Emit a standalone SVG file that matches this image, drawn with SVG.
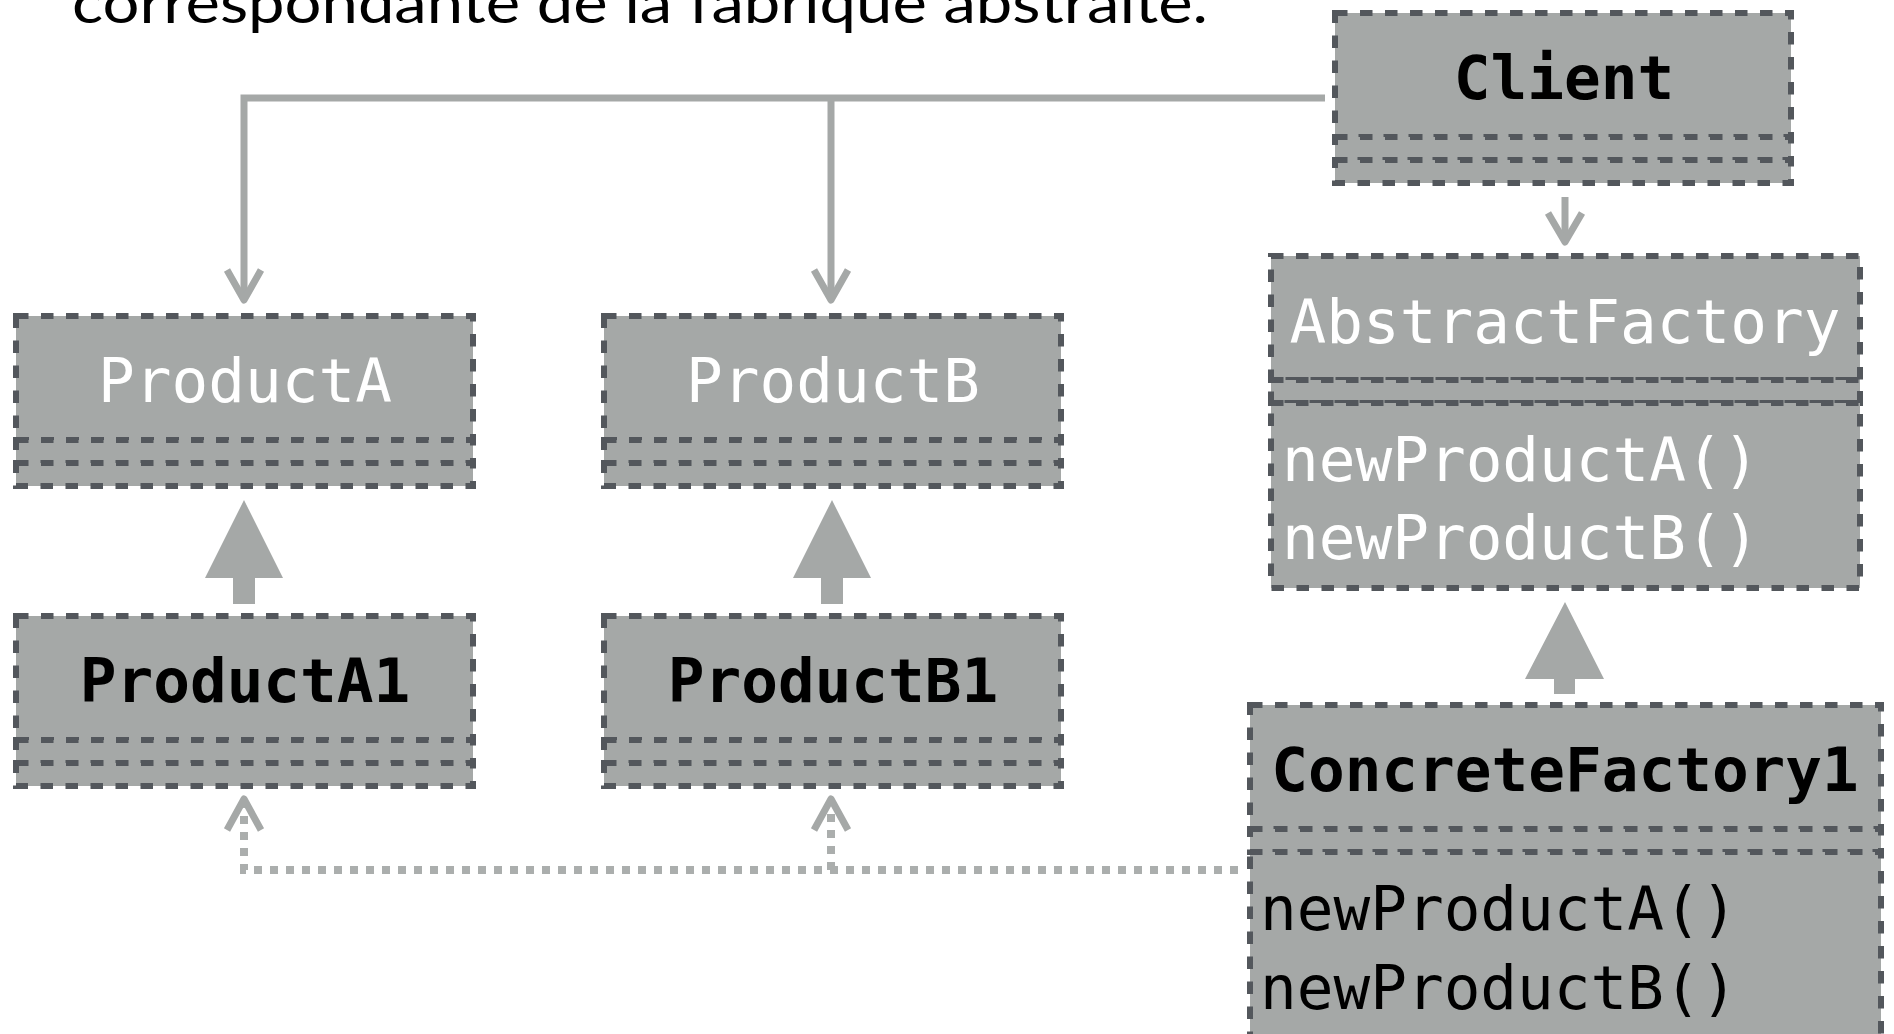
<svg xmlns="http://www.w3.org/2000/svg" width="1894" height="1034" viewBox="0 0 1894 1034">
<style>
.box{fill:#a5a8a7;stroke:#53575c;stroke-width:6;stroke-dasharray:12.5 12.5}
.t{font-family:"DejaVu Sans Mono","Liberation Mono",monospace;font-size:61px}
.w{fill:#ffffff}
.k{fill:#000000}
.b{font-weight:bold}
.mid{text-anchor:middle}
.con{fill:none;stroke:#a5a8a7;stroke-width:7}
.head{fill:none;stroke:#a5a8a7;stroke-width:7;stroke-linejoin:round}
.dot{fill:none;stroke:#abaead;stroke-width:8;stroke-dasharray:8 8}
.inh{fill:#a5a8a7}
.title{font-family:Lato,"Open Sans","Noto Sans",sans-serif;font-weight:400;font-size:56px;fill:#000}
</style>
<text class="title" x="72" y="23" textLength="1136" lengthAdjust="spacingAndGlyphs">correspondante de la fabrique abstraite.</text>

<g id="connectors">
  <path class="con" d="M1325 98 H244 V298"/>
  <path class="con" d="M831 98 V298"/>
  <polyline class="head" points="227,270 244,300 261,270"/>
  <polyline class="head" points="814,270 831,300 848,270"/>
  <path class="con" d="M1565 197 V240"/>
  <polyline class="head" points="1548,213 1565,242 1582,213"/>
  <path class="inh" d="M244 500 L283 578 L255 578 L255 604 L233 604 L233 578 L205 578 Z"/>
  <path class="inh" d="M832 500 L871 578 L843 578 L843 604 L821 604 L821 578 L793 578 Z"/>
  <path class="inh" d="M1565 602 L1604 679 L1575 679 L1575 694 L1554 694 L1554 679 L1525 679 Z"/>
  <path class="dot" d="M1238 870 H244 V804"/>
  <path class="dot" d="M831 870 V804"/>
  <polyline class="head" points="227,830 244,799 261,830"/>
  <polyline class="head" points="814,830 831,799 848,830"/>
</g>

<g id="client">
  <rect class="box" x="1335" y="13" width="456" height="124"/>
  <rect class="box" x="1335" y="137" width="456" height="23"/>
  <rect class="box" x="1335" y="160" width="456" height="23"/>
  <text class="t k b mid" x="1564" y="99">Client</text>
</g>

<g id="productA">
  <rect class="box" x="16" y="316" width="457" height="124"/>
  <rect class="box" x="16" y="440" width="457" height="23"/>
  <rect class="box" x="16" y="463" width="457" height="23"/>
  <text class="t w mid" x="245" y="402">ProductA</text>
</g>

<g id="productB">
  <rect class="box" x="604" y="316" width="457" height="124"/>
  <rect class="box" x="604" y="440" width="457" height="23"/>
  <rect class="box" x="604" y="463" width="457" height="23"/>
  <text class="t w mid" x="833" y="402">ProductB</text>
</g>

<g id="productA1">
  <rect class="box" x="16" y="616" width="457" height="124"/>
  <rect class="box" x="16" y="740" width="457" height="23"/>
  <rect class="box" x="16" y="763" width="457" height="23"/>
  <text class="t k b mid" x="245" y="702">ProductA1</text>
</g>

<g id="productB1">
  <rect class="box" x="604" y="616" width="457" height="124"/>
  <rect class="box" x="604" y="740" width="457" height="23"/>
  <rect class="box" x="604" y="763" width="457" height="23"/>
  <text class="t k b mid" x="833" y="702">ProductB1</text>
</g>

<g id="abstractFactory">
  <rect class="box" x="1271" y="256" width="589" height="124"/>
  <rect class="box" x="1271" y="380" width="589" height="23"/>
  <rect class="box" x="1271" y="403" width="589" height="185"/>
  <text class="t w mid" x="1565" y="343">AbstractFactory</text>
  <text class="t w" x="1282" y="481">newProductA()</text>
  <text class="t w" x="1282" y="559">newProductB()</text>
</g>

<g id="concreteFactory1">
  <rect class="box" x="1250" y="705" width="631" height="124"/>
  <rect class="box" x="1250" y="829" width="631" height="23"/>
  <rect class="box" x="1250" y="852" width="631" height="240"/>
  <text class="t k b mid" x="1565" y="791">ConcreteFactory1</text>
  <text class="t k" x="1260" y="930">newProductA()</text>
  <text class="t k" x="1260" y="1009">newProductB()</text>
</g>
</svg>
